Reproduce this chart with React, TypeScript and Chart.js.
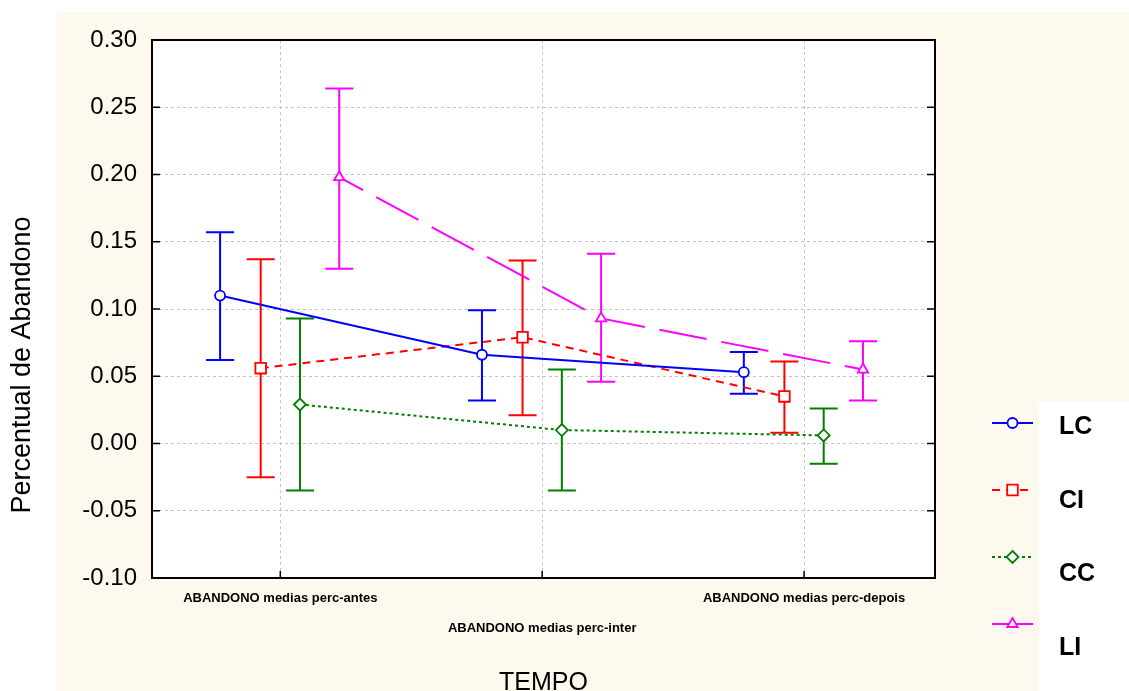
import React, { useEffect, useRef } from 'react';
import { Chart, registerables } from 'chart.js';

Chart.register(...registerables);

// ---------- data ----------
const categories = [
  'ABANDONO medias perc-antes',
  'ABANDONO medias perc-inter',
  'ABANDONO medias perc-depois',
];
const seriesNames = ['LC', 'CI', 'CC', 'LI'];

const lcMean = [0.110, 0.066, 0.053];
const lcLower = [0.062, 0.032, 0.037];
const lcUpper = [0.157, 0.099, 0.068];

const ciMean = [0.056, 0.079, 0.035];
const ciLower = [-0.025, 0.021, 0.008];
const ciUpper = [0.137, 0.136, 0.061];

const ccMean = [0.029, 0.010, 0.006];
const ccLower = [-0.035, -0.035, -0.015];
const ccUpper = [0.093, 0.055, 0.026];

const liMean = [0.198, 0.093, 0.055];
const liLower = [0.130, 0.046, 0.032];
const liUpper = [0.264, 0.141, 0.076];

const yTickValues = [-0.1, -0.05, 0, 0.05, 0.1, 0.15, 0.2, 0.25, 0.3];

const yTitle = 'Percentual de Abandono';
const xTitle = 'TEMPO';

// ---------- styles ----------
const FONT = "'Liberation Sans', Arial, Helvetica, sans-serif";
const CREAM = 'rgb(254,249,238)';

type Series = {
  name: string;
  mean: number[];
  lower: number[];
  upper: number[];
  color: string;
  dash: number[];
  dashOffset: number;
  pointStyle: string;
  radius: number;
  offset: number;
};

const series: Series[] = [
  { name: seriesNames[0], mean: lcMean, lower: lcLower, upper: lcUpper, color: '#0000FF', dash: [], dashOffset: 0, pointStyle: 'circle', radius: 5, offset: -0.23 },
  { name: seriesNames[1], mean: ciMean, lower: ciLower, upper: ciUpper, color: '#FF0000', dash: [8, 6], dashOffset: 0, pointStyle: 'rect', radius: 7.5, offset: -0.075 },
  { name: seriesNames[2], mean: ccMean, lower: ccLower, upper: ccUpper, color: '#008000', dash: [3, 3], dashOffset: 0, pointStyle: 'rectRot', radius: 6, offset: 0.075 },
  { name: seriesNames[3], mean: liMean, lower: liLower, upper: liUpper, color: '#FF00FF', dash: [48, 15], dashOffset: 21, pointStyle: 'triangle', radius: 6, offset: 0.225 },
];

function drawMarker(ctx: CanvasRenderingContext2D, style: string, x: number, y: number, r: number, color: string) {
  ctx.save();
  ctx.setLineDash([]);
  ctx.fillStyle = '#fff';
  ctx.strokeStyle = color;
  ctx.lineWidth = 1.8;
  ctx.beginPath();
  if (style === 'circle') {
    ctx.arc(x, y, r, 0, Math.PI * 2);
  } else if (style === 'rect') {
    const s = r * Math.SQRT1_2;
    ctx.rect(x - s, y - s, 2 * s, 2 * s);
  } else if (style === 'rectRot') {
    ctx.moveTo(x, y - r);
    ctx.lineTo(x + r, y);
    ctx.lineTo(x, y + r);
    ctx.lineTo(x - r, y);
    ctx.closePath();
  } else if (style === 'triangle') {
    ctx.moveTo(x, y - r);
    ctx.lineTo(x + r * 0.866, y + r * 0.5);
    ctx.lineTo(x - r * 0.866, y + r * 0.5);
    ctx.closePath();
  }
  ctx.fill();
  ctx.stroke();
  ctx.restore();
}

const customPlugin = {
  id: 'custom',
  beforeDraw(chart: any) {
    const { ctx, chartArea: a, width, height } = chart;
    ctx.save();
    ctx.fillStyle = '#fff';
    ctx.fillRect(0, 0, width, height);
    ctx.fillStyle = CREAM;
    ctx.fillRect(56, 12, width - 56, height - 12);
    ctx.fillStyle = '#fff';
    ctx.fillRect(1039, 402, width - 1039, height - 402);
    ctx.fillRect(a.left, a.top, a.right - a.left, a.bottom - a.top);
    ctx.restore();
  },
  beforeDatasetsDraw(chart: any) {
    const { ctx } = chart;
    const xs = chart.scales.x;
    const ys = chart.scales.y;
    ctx.save();
    ctx.lineWidth = 2;
    ctx.setLineDash([]);
    series.forEach((s) => {
      ctx.strokeStyle = s.color;
      s.mean.forEach((_, j) => {
        const x = xs.getPixelForValue(j + 1 + s.offset);
        const yt = ys.getPixelForValue(s.upper[j]);
        const yb = ys.getPixelForValue(s.lower[j]);
        ctx.beginPath();
        ctx.moveTo(x, yt);
        ctx.lineTo(x, yb);
        ctx.moveTo(x - 14, yt);
        ctx.lineTo(x + 14, yt);
        ctx.moveTo(x - 14, yb);
        ctx.lineTo(x + 14, yb);
        ctx.stroke();
      });
    });
    ctx.restore();
  },
  afterDraw(chart: any) {
    const { ctx, chartArea: a } = chart;
    const xs = chart.scales.x;
    const ys = chart.scales.y;
    ctx.save();
    // frame
    ctx.strokeStyle = '#000';
    ctx.lineWidth = 2;
    ctx.setLineDash([]);
    ctx.strokeRect(a.left, a.top, a.right - a.left, a.bottom - a.top);
    // inner tick marks
    ctx.lineWidth = 1.5;
    ctx.beginPath();
    yTickValues.forEach((v) => {
      const y = ys.getPixelForValue(v);
      ctx.moveTo(a.left, y);
      ctx.lineTo(a.left + 8, y);
      ctx.moveTo(a.right, y);
      ctx.lineTo(a.right - 8, y);
    });
    categories.forEach((_, j) => {
      const x = xs.getPixelForValue(j + 1);
      ctx.moveTo(x, a.bottom);
      ctx.lineTo(x, a.bottom - 7);
    });
    ctx.stroke();

    // category labels (staggered)
    ctx.fillStyle = '#000';
    ctx.font = `bold 13px ${FONT}`;
    ctx.textAlign = 'center';
    ctx.textBaseline = 'middle';
    categories.forEach((c, j) => {
      const x = xs.getPixelForValue(j + 1);
      const y = j % 2 === 1 ? a.bottom + 50 : a.bottom + 20;
      ctx.fillText(c, x, y);
    });

    // x title
    ctx.font = `25px ${FONT}`;
    ctx.textBaseline = 'alphabetic';
    ctx.fillText(xTitle, (a.left + a.right) / 2, 690);

    // y title
    ctx.save();
    ctx.translate(23, 365);
    ctx.rotate(-Math.PI / 2);
    ctx.font = `27px ${FONT}`;
    ctx.textAlign = 'center';
    ctx.textBaseline = 'middle';
    ctx.fillText(yTitle, 0, 0);
    ctx.restore();

    // legend
    series.forEach((s, k) => {
      const sy = 423 + k * 67;
      const ly = 427 + k * 73.7;
      ctx.save();
      ctx.strokeStyle = s.color;
      ctx.lineWidth = 2;
      ctx.setLineDash(s.dash);
      ctx.beginPath();
      ctx.moveTo(992, sy);
      ctx.lineTo(1033, sy);
      ctx.stroke();
      ctx.restore();
      drawMarker(ctx, s.pointStyle, 1012.5, sy, s.radius, s.color);
      ctx.fillStyle = '#000';
      ctx.font = `bold 25px ${FONT}`;
      ctx.textAlign = 'left';
      ctx.textBaseline = 'middle';
      ctx.fillText(s.name, 1059, ly);
    });
    ctx.restore();
  },
};

export default function App() {
  const canvasRef = useRef<HTMLCanvasElement | null>(null);

  useEffect(() => {
    const canvas = canvasRef.current;
    if (!canvas) return;
    const chart = new Chart(canvas, {
      type: 'line',
      data: {
        datasets: series.map((s) => ({
          label: s.name,
          data: s.mean.map((v, j) => ({ x: j + 1 + s.offset, y: v })),
          borderColor: s.color,
          borderWidth: 2,
          borderDash: s.dash,
          borderDashOffset: s.dashOffset,
          pointStyle: s.pointStyle as any,
          pointRadius: s.radius,
          pointBackgroundColor: '#fff',
          pointBorderColor: s.color,
          pointBorderWidth: 1.8,
          fill: false,
          tension: 0,
        })),
      },
      options: {
        responsive: false,
        animation: false,
        layout: { padding: { left: 0, top: 40, right: 194, bottom: 0 } },
        plugins: {
          legend: { display: false },
          tooltip: { enabled: false },
          title: { display: false },
        },
        scales: {
          x: {
            type: 'linear',
            min: 0.51,
            max: 3.5,
            afterBuildTicks: (scale: any) => {
              scale.ticks = categories.map((_, j) => ({ value: j + 1 }));
            },
            afterFit: (scale: any) => {
              scale.height = 113;
            },
            ticks: { display: false },
            grid: {
              color: '#c4c4c4',
              lineWidth: 1,
              drawTicks: false,
              tickBorderDash: [3, 3],
            } as any,
            border: { display: true, color: '#000', width: 2, dash: [3, 3] } as any,
          },
          y: {
            type: 'linear',
            min: -0.1,
            max: 0.3,
            afterBuildTicks: (scale: any) => {
              scale.ticks = yTickValues.map((v) => ({ value: v }));
            },
            afterFit: (scale: any) => {
              scale.width = 152;
            },
            ticks: {
              color: '#000',
              padding: 15,
              font: { family: FONT, size: 24 },
              callback: (v: any) => Number(v).toFixed(2),
            },
            grid: {
              color: '#c4c4c4',
              lineWidth: 1,
              drawTicks: false,
            },
            border: { display: true, color: '#000', width: 2, dash: [3, 3] } as any,
          },
        },
      },
      plugins: [customPlugin],
    });
    return () => chart.destroy();
  }, []);

  return (
    <div style={{ position: 'absolute', left: 0, top: 0, width: 1129, height: 691 }}>
      <canvas ref={canvasRef} width={1129} height={691} style={{ display: 'block' }} />
    </div>
  );
}
